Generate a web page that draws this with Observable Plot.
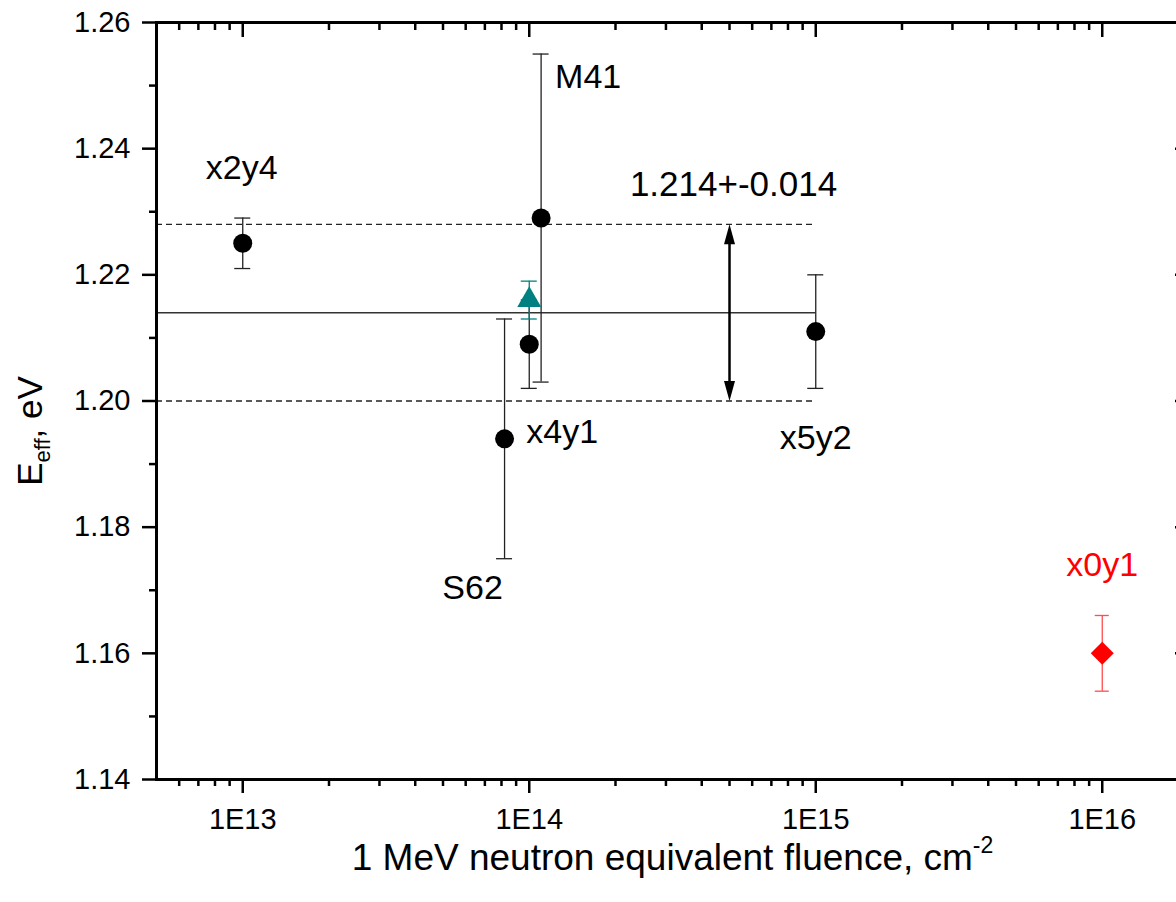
<!DOCTYPE html>
<html>
<head>
<meta charset="utf-8">
<script src="https://cdn.jsdelivr.net/npm/d3@7"></script>
<script src="https://cdn.jsdelivr.net/npm/@observablehq/plot@0.6"></script>
<style>
html, body { margin: 0; padding: 0; overflow: hidden; background: #fff; }
#chart svg { max-width: none !important; height: 902px !important; display: block; }
</style>
</head>
<body>
<div id="chart"></div>
<script>
// ---- data ----
const names    = ["x2y4", "S62", "x4y1", "M41", "x5y2"];
const fluence  = [1e13, 8.2e13, 1e14, 1.1e14, 1e15];
const eeff     = [1.225, 1.194, 1.209, 1.229, 1.211];
const errLow   = [1.221, 1.175, 1.202, 1.203, 1.202];
const errHigh  = [1.229, 1.213, 1.216, 1.255, 1.220];

const tealFluence = [1e14];
const tealEeff    = [1.216];
const tealLow     = [1.213];
const tealHigh    = [1.219];

const redNames   = ["x0y1"];
const redFluence = [1e16];
const redEeff    = [1.160];
const redLow     = [1.154];
const redHigh    = [1.166];

const meanE = 1.214;
const sdE = 0.014;
const bandStart = 5e12;
const bandEnd = 1e15;
const arrowAt = 5e14;
const bandLabel = "1.214+-0.014";

const xDomain = [5e12, 2e16];
const yDomain = [1.14, 1.26];
const xMajor = [1e13, 1e14, 1e15, 1e16];
const xMinor = [6e12, 7e12, 8e12, 9e12,
  2e13, 3e13, 4e13, 5e13, 6e13, 7e13, 8e13, 9e13,
  2e14, 3e14, 4e14, 5e14, 6e14, 7e14, 8e14, 9e14,
  2e15, 3e15, 4e15, 5e15, 6e15, 7e15, 8e15, 9e15];
const yMajor = [1.14, 1.16, 1.18, 1.20, 1.22, 1.24, 1.26];
const yMinor = [1.15, 1.17, 1.19, 1.21, 1.23, 1.25];

const xTitle = "1 MeV neutron equivalent fluence, cm";
const xTitleSup = "-2";
const yTitleMain = "E";
const yTitleSub = "eff";
const yTitleRest = ", eV";

// ---- tables ----
const points = names.map((n, i) => ({name: n, fluence: fluence[i], eeff: eeff[i], lo: errLow[i], hi: errHigh[i]}));
const teal = tealFluence.map((f, i) => ({fluence: f, eeff: tealEeff[i], lo: tealLow[i], hi: tealHigh[i]}));
const red = redNames.map((n, i) => ({name: n, fluence: redFluence[i], eeff: redEeff[i], lo: redLow[i], hi: redHigh[i]}));
const bandLines = [meanE - sdE, meanE + sdE].map(v => ({y: v, x1: bandStart, x2: bandEnd}));
const meanLine = [{y: meanE, x1: bandStart, x2: bandEnd}];
const heads = [{y: meanE + sdE, rot: 0}, {y: meanE - sdE, rot: 180}];
const shaft = [{x: arrowAt, y1: meanE + sdE, y2: meanE - sdE}];

const arrowHead = {
  draw(context) {
    context.moveTo(0, 0);
    context.lineTo(-5.5, 20);
    context.lineTo(5.5, 20);
    context.closePath();
  }
};

const pick = (name) => points.filter(d => d.name === name);
const labelFont = 34;

function errorBars(data, color, cap) {
  return [
    Plot.ruleX(data, {x: "fluence", y1: "lo", y2: "hi", stroke: color, strokeWidth: 1.3}),
    Plot.ruleY(data, {y: "lo", x1: "fluence", x2: "fluence", insetLeft: -cap, insetRight: -cap, stroke: color, strokeWidth: 1.3}),
    Plot.ruleY(data, {y: "hi", x1: "fluence", x2: "fluence", insetLeft: -cap, insetRight: -cap, stroke: color, strokeWidth: 1.3})
  ];
}

const chart = Plot.plot({
  width: 1188,
  height: 902,
  marginLeft: 156,
  marginRight: 0,
  marginTop: 22,
  marginBottom: 123,
  style: {fontFamily: "Arial, 'Liberation Sans', sans-serif", background: "white", color: "black", overflow: "visible"},
  x: {type: "log", domain: xDomain},
  y: {domain: yDomain},
  marks: [
    // band lines
    Plot.ruleY(meanLine, {y: "y", x1: "x1", x2: "x2", stroke: "#333", strokeWidth: 1.4}),
    Plot.ruleY(bandLines, {y: "y", x1: "x1", x2: "x2", stroke: "#222", strokeWidth: 1.3, strokeDasharray: "6,4"}),
    // double arrow
    Plot.ruleX(shaft, {x: "x", y1: "y1", y2: "y2", insetTop: 8, insetBottom: 8, stroke: "black", strokeWidth: 2.5}),
    Plot.dot(heads, {x: arrowAt, y: "y", rotate: "rot", symbol: arrowHead, fill: "black", stroke: "none"}),
    Plot.text([bandLabel], {x: arrowAt, y: meanE + sdE, dx: 4, dy: -40, fontSize: 35, fill: "black"}),

    // black series
    ...errorBars(points, "#222", 8),
    Plot.dot(points, {x: "fluence", y: "eeff", r: 9.5, fill: "black", stroke: "none"}),

    // teal series
    ...errorBars(teal, "#008080", 8),
    Plot.dot(teal, {x: "fluence", y: "eeff", symbol: "triangle", r: 8.9, fill: "#008080", stroke: "none"}),

    // red series
    ...errorBars(red, "#ff4d4d", 7),
    Plot.dot(red, {x: "fluence", y: "eeff", symbol: "square", r: 9.2, rotate: 45, fill: "#ff0000", stroke: "none"}),

    // labels
    Plot.text(pick("x2y4"), {x: "fluence", y: "eeff", text: "name", dx: -1, dy: -75, fontSize: labelFont, fill: "black"}),
    Plot.text(pick("M41"), {x: "fluence", y: "eeff", text: "name", dx: 14, dy: -141, textAnchor: "start", fontSize: labelFont, fill: "black"}),
    Plot.text(pick("x4y1"), {x: "fluence", y: "eeff", text: "name", dx: -3, dy: 88, textAnchor: "start", fontSize: labelFont, fill: "black"}),
    Plot.text(pick("S62"), {x: "fluence", y: "eeff", text: "name", dx: -32, dy: 149, fontSize: labelFont, fill: "black"}),
    Plot.text(pick("x5y2"), {x: "fluence", y: "eeff", text: "name", dy: 107, fontSize: labelFont, fill: "black"}),
    Plot.text(red, {x: "fluence", y: "eeff", text: "name", dy: -88, fontSize: labelFont, fill: "#ff0000"}),

    // axes
    Plot.axisX({anchor: "bottom", ticks: xMajor, tickSize: 14, tickPadding: 15, strokeWidth: 2.5, fontSize: 29,
      tickFormat: d => "1E" + Math.round(Math.log10(d)), label: null}),
    Plot.axisX({anchor: "bottom", ticks: xMinor, tickSize: 7, strokeWidth: 2.5, fill: "none"}),
    Plot.axisX({anchor: "top", ticks: xMajor, tickSize: 14, dy: 14, strokeWidth: 2.5, fill: "none"}),
    Plot.axisX({anchor: "top", ticks: xMinor, tickSize: 7, dy: 7, strokeWidth: 2.5, fill: "none"}),
    Plot.axisY({anchor: "left", ticks: yMajor, tickSize: 14, tickPadding: 12, strokeWidth: 2.5, fontSize: 29,
      tickFormat: d3.format(".2f"), label: null}),
    Plot.axisY({anchor: "left", ticks: yMinor, tickSize: 7, strokeWidth: 2.5, fill: "none"}),
    Plot.axisY({anchor: "right", ticks: yMajor, tickSize: 14, dx: -14, strokeWidth: 2.5, fill: "none"}),
    Plot.frame({stroke: "black", strokeWidth: 3}),

    // axis titles
    Plot.text([xTitle], {frameAnchor: "bottom", lineAnchor: "middle", textAnchor: "middle", dy: 79, fontSize: 37, fill: "black"}),
    Plot.text([yTitleMain + yTitleSub + yTitleRest], {frameAnchor: "left", lineAnchor: "middle", textAnchor: "middle", rotate: -90, dx: -126, dy: 30, fontSize: 35, fill: "black"})
  ]
});

document.getElementById("chart").appendChild(chart);

// rich text for axis titles
d3.select(chart).selectAll("text").each(function() {
  const t = d3.select(this);
  const content = this.textContent;
  if (content === xTitle) {
    t.append("tspan").attr("dy", -17).attr("font-size", 23).text(xTitleSup);
  } else if (content === yTitleMain + yTitleSub + yTitleRest) {
    t.text(null);
    t.append("tspan").text(yTitleMain);
    t.append("tspan").attr("dy", 8).attr("font-size", 22).text(yTitleSub);
    t.append("tspan").attr("dy", -8).text(yTitleRest);
  }
});
</script>
</body>
</html>
